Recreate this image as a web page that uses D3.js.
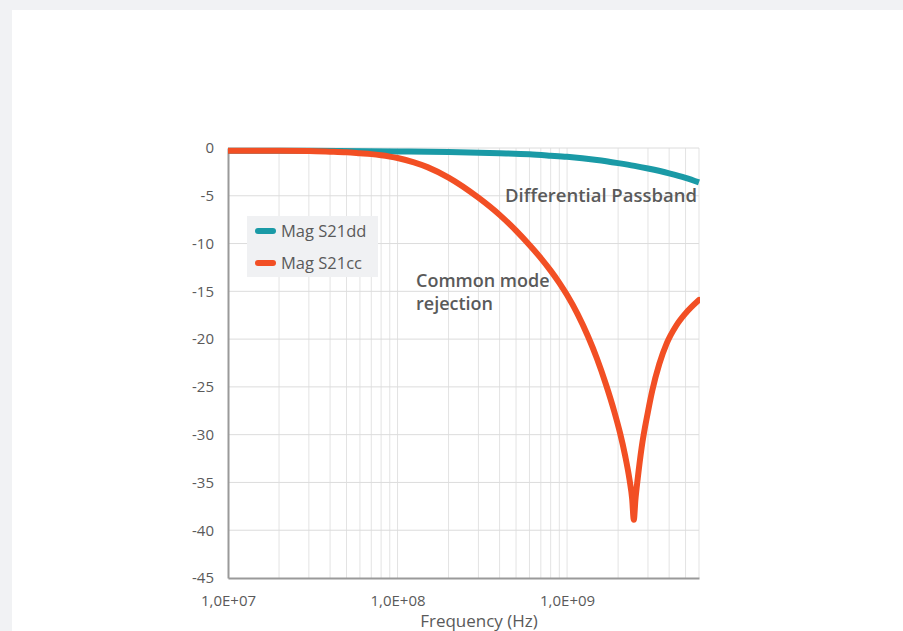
<!DOCTYPE html>
<html>
<head>
<meta charset="utf-8">
<script src="https://cdn.jsdelivr.net/npm/d3@7"></script>
<style>
  html, body { margin: 0; padding: 0; background: #f1f2f4; }
  svg { display: block; }
  text { font-family: "Open Sans", "Noto Sans", sans-serif; fill: #5a5a5a; }
</style>
</head>
<body>
<svg id="chart" width="903" height="631"></svg>
<script>
// Frequency sweep (Hz) and transmission magnitude (dB) for each mode
const freqDD = [1e7, 3e7, 1e8, 2e8, 4e8, 6e8, 8e8, 1e9, 1.5e9, 2e9, 2.5e9, 3e9, 4e9, 5e9, 6e9];
const magS21dd = [-0.28, -0.3, -0.36, -0.42, -0.55, -0.66, -0.8, -0.92, -1.25, -1.58, -1.87, -2.15, -2.65, -3.12, -3.6];

const freqCC = [1e7, 2e7, 3e7, 4e7, 5e7, 6e7, 7e7, 8e7, 9e7, 1e8, 1.25e8, 1.5e8, 2e8, 3e8, 4e8, 5e8, 6e8, 7e8, 8e8, 9e8,
                1e9, 1.15e9, 1.33e9, 1.5e9, 1.7e9, 1.9e9, 2.05e9, 2.2e9, 2.33e9, 2.42e9, 2.475e9,
                2.53e9, 2.61e9, 2.75e9, 3.0e9, 3.18e9, 3.5e9, 3.88e9, 4.4e9, 5.0e9, 6.0e9];
const magS21cc = [-0.28, -0.29, -0.31, -0.38, -0.45, -0.55, -0.64, -0.76, -0.9, -1.05, -1.5, -2.0, -3.1, -5.2, -7.0, -8.65,
                  -10.15, -11.52, -12.83, -14.11,
                  -15.39, -17.33, -19.73, -22.03, -24.8, -27.6, -29.78, -32.2, -34.6, -36.7, -38.9,
                  -36.8, -34.6, -31.4, -27.6, -25.4, -22.6, -20.4, -18.6, -17.3, -15.9];

const yTicks = [0, -5, -10, -15, -20, -25, -30, -35, -40, -45];
const xTickValues = [1e7, 1e8, 1e9];
const xTickLabels = ["1,0E+07", "1,0E+08", "1,0E+09"];

const seriesNames = ["Mag S21dd", "Mag S21cc"];
const seriesColors = ["#1a9aa6", "#f24f24"];

const svg = d3.select("#chart");

// white card
svg.append("rect").attr("x", 12).attr("y", 10).attr("width", 903).attr("height", 640).attr("fill", "#ffffff");

const m = { left: 228, right: 699, top: 148, bottom: 578 };
const x = d3.scaleLog().domain([1e7, 6e9]).range([m.left, m.right]);
const y = d3.scaleLinear().domain([-45, 0]).range([m.bottom, m.top]);

const grid = svg.append("g");
// vertical grid: every 1..9 per decade
const vLines = [];
for (let d = 1e7; d < 1e10; d *= 10) {
  for (let k = 1; k <= 9; k++) {
    const v = d * k;
    if (v > 1e7 && v <= 6e9 + 1) vLines.push(v);
  }
}
grid.selectAll("line.v").data(vLines).join("line")
  .attr("x1", d => x(d)).attr("x2", d => x(d))
  .attr("y1", m.top).attr("y2", m.bottom)
  .attr("stroke", "#e3e3e3").attr("stroke-width", 1);
grid.selectAll("line.h").data(yTicks.filter(t => t > -45)).join("line")
  .attr("x1", m.left).attr("x2", m.right)
  .attr("y1", d => y(d)).attr("y2", d => y(d))
  .attr("stroke", "#dcdcdc").attr("stroke-width", 1);

// axes
const yAxis = d3.axisLeft(y).tickValues(yTicks).tickSize(0).tickPadding(14).tickFormat(d => String(d));
const gy = svg.append("g").attr("transform", `translate(${m.left},0)`).call(yAxis);
gy.select(".domain").attr("stroke", "#9a9a9a").attr("stroke-width", 2);
gy.selectAll("text").style("font-size", "15px").attr("fill", "#5a5a5a");

const xAxis = d3.axisBottom(x).tickValues(xTickValues).tickSize(0).tickPadding(17)
  .tickFormat((d, i) => xTickLabels[i]);
const gx = svg.append("g").attr("transform", `translate(0,${m.bottom})`).call(xAxis);
gx.select(".domain").attr("stroke", "#9a9a9a").attr("stroke-width", 2);
gx.selectAll("text").style("font-size", "15px").attr("fill", "#5a5a5a");

svg.append("text").attr("x", 479).attr("y", 627)
  .attr("text-anchor", "middle").style("font-size", "17px").text("Frequency (Hz)");

// curves
const line = d3.line().x(d => x(d[0])).y(d => y(d[1])).curve(d3.curveMonotoneX);
const dd = freqDD.map((f, i) => [f, magS21dd[i]]);
const cc = freqCC.map((f, i) => [f, magS21cc[i]]);

svg.append("clipPath").attr("id", "plotclip").append("rect")
  .attr("x", m.left).attr("y", m.top - 10).attr("width", m.right - m.left + 1).attr("height", m.bottom - m.top + 10);

svg.append("path").datum(dd).attr("d", line).attr("fill", "none")
  .attr("stroke", seriesColors[0]).attr("stroke-width", 6).attr("stroke-linejoin", "round")
  .attr("clip-path", "url(#plotclip)");
svg.append("path").datum(cc).attr("d", line).attr("fill", "none")
  .attr("stroke", seriesColors[1]).attr("stroke-width", 6).attr("stroke-linejoin", "round")
  .attr("stroke-linecap", "round").attr("clip-path", "url(#plotclip)");

// legend
const lg = svg.append("g");
lg.append("rect").attr("x", 247).attr("y", 216).attr("width", 131).attr("height", 61).attr("fill", "#f0f1f3");
seriesNames.forEach((name, i) => {
  const cy = 231 + i * 32;
  lg.append("line").attr("x1", 258).attr("x2", 273).attr("y1", cy).attr("y2", cy)
    .attr("stroke", seriesColors[i]).attr("stroke-width", 6).attr("stroke-linecap", "round");
  lg.append("text").attr("x", 281).attr("y", cy).attr("dy", "0.35em")
    .style("font-size", "16.5px").text(name);
});

// annotations
svg.append("text").attr("x", 697).attr("y", 202).attr("text-anchor", "end")
  .style("font-size", "18.5px").style("font-weight", "600").text("Differential Passband");
const ann = svg.append("text").attr("x", 416).attr("y", 287).style("font-size", "18px").style("font-weight", "600");
ann.append("tspan").attr("x", 416).attr("dy", 0).text("Common mode");
ann.append("tspan").attr("x", 416).attr("dy", 23).text("rejection");
</script>
</body>
</html>
